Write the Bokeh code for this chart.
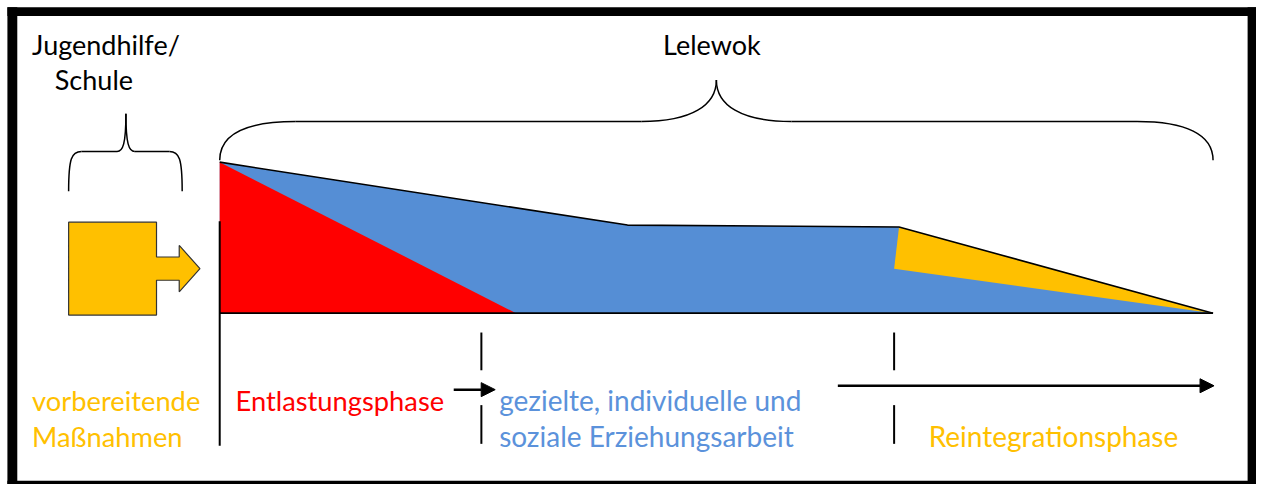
from bokeh.plotting import figure
from bokeh.models import Range1d, Arrow, NormalHead, ColumnDataSource
from bokeh.core.properties import value
from bokeh.embed import file_html
from bokeh.resources import INLINE

# ---------------- data (diagram coordinates in reference pixels) ----------------
# phase areas
red_x = [222, 222, 522]
red_y = [167, 323, 323]
blue_x = [222, 635, 910, 1228, 222]
blue_y = [167, 232, 234, 323, 323]
yellow_x = [910, 905, 1228]
yellow_y = [234, 277, 323]
outline_x = [222, 635, 910, 1228]
outline_y = [167, 232, 234, 323]
base_x = [222, 1228]
base_y = [323, 323]

# preparatory block arrow
block_x = [69, 158, 158, 181, 181, 202, 181, 181, 158, 158, 69]
block_y = [229, 229, 265, 265, 253, 277, 301, 289, 289, 325, 325]

# braces (bezier segments): x0, y0, cx0, cy0, cx1, cy1, x1, y1
brace_x0 = [222, 1151, 649, 801, 69, 184, 118, 136]
brace_y0 = [165, 125, 125, 125, 197, 197, 156, 156]
brace_cx0 = [222, 1200, 700, 750, 69, 184, 124, 130]
brace_cy0 = [138, 125, 125, 125, 163, 163, 156, 156]
brace_cx1 = [248, 1228, 725, 725, 72, 181, 127, 127]
brace_cy1 = [125, 138, 108, 108, 156, 156, 148, 148]
brace_x1 = [299, 1228, 725, 725, 82, 171, 127, 127]
brace_y1 = [125, 165, 82, 82, 156, 156, 117, 117]
brace_line_x0 = [299, 801, 82, 136]
brace_line_x1 = [649, 1151, 118, 171]
brace_line_y = [125, 125, 156, 156]

# separators
sep_x = [222, 487, 487, 905, 905]
sep_y0 = [228, 343, 418, 343, 418]
sep_y1 = [460, 382, 458, 382, 458]

# arrows
arrow_x0 = [459, 848]
arrow_x1 = [501, 1229]
arrow_y = [402, 398]

# labels
labels = ["Jugendhilfe/", "Schule", "Lelewok",
          "vorbereitende", "Maßnahmen", "Entlastungsphase",
          "gezielte, individuelle und", "soziale Erziehungsarbeit",
          "Reintegrationsphase"]
label_x = [32, 55, 671, 32, 32, 238, 505, 505, 940]
label_y = [45, 82, 45, 413, 450, 413, 413, 450, 450]
label_color = ["#000000", "#000000", "#000000", "#FFC000", "#FFC000", "#FF0000",
               "#5B92DB", "#5B92DB", "#FFC000"]
label_size = ["27px", "27px", "27px", "27.3px", "27.3px", "27.3px", "28px", "28px", "28px"]

RED = "#FF0000"
BLUE = "#558ED5"
YELLOW = "#FFC000"

p = figure(width=1256, height=484, x_range=Range1d(0, 1272), y_range=Range1d(500, 0),
           output_backend="svg", toolbar_location=None, min_border=0,
           x_axis_location=None, y_axis_location=None)
p.grid.visible = False
p.outline_line_color = None
p.background_fill_color = "white"

# frame
p.quad(left=[7, 1263, 7, 7], right=[17, 1272, 1272, 1272],
       top=[7, 7, 7, 496], bottom=[500, 500, 16, 500],
       fill_color="black", line_color=None)

p.patch(blue_x, blue_y, fill_color=BLUE, line_color=None)
p.patch(red_x, red_y, fill_color=RED, line_color=None)
p.patch(yellow_x, yellow_y, fill_color=YELLOW, line_color=None)
p.line(outline_x, outline_y, line_color="black", line_width=1.6)
p.line(base_x, base_y, line_color="black", line_width=1.6)

p.patch(block_x, block_y, fill_color=YELLOW, line_color="#333333", line_width=1.2)

p.bezier(x0=brace_x0, y0=brace_y0, x1=brace_x1, y1=brace_y1,
         cx0=brace_cx0, cy0=brace_cy0, cx1=brace_cx1, cy1=brace_cy1,
         line_color="black", line_width=1.5)
p.segment(x0=brace_line_x0, x1=brace_line_x1, y0=brace_line_y, y1=brace_line_y,
          line_color="black", line_width=1.5)

p.segment(x0=sep_x, x1=sep_x, y0=sep_y0, y1=sep_y1, line_color="black", line_width=2)

for xs, xe, yy in zip(arrow_x0, arrow_x1, arrow_y):
    p.add_layout(Arrow(end=NormalHead(size=14, fill_color="black", line_color="black"),
                       x_start=xs, y_start=yy, x_end=xe, y_end=yy,
                       line_color="black", line_width=2.5))

src = ColumnDataSource(dict(x=label_x, y=label_y, text=labels, color=label_color, size=label_size))
p.text(x="x", y="y", text="text", text_color="color", text_font_size="size",
       text_font=value("Lato"), text_baseline="alphabetic", text_align="left", source=src)

open("out.html", "w").write(file_html(p, INLINE))
